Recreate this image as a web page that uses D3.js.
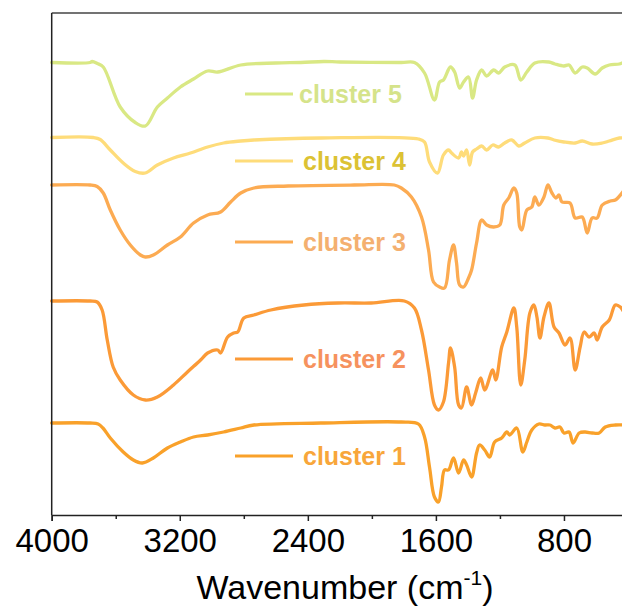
<!DOCTYPE html>
<html>
<head>
<meta charset="utf-8">
<script src="https://cdn.jsdelivr.net/npm/d3@7"></script>
<style>
  html, body { margin: 0; padding: 0; background: #fff; }
  svg { display: block; font-family: "Liberation Sans", Arial, sans-serif; }
</style>
</head>
<body>
<svg id="chart" width="622" height="610"></svg>
<script>
// FTIR spectra of five clusters, stacked with vertical offsets (arbitrary units).
const seriesNames = ["cluster 1", "cluster 2", "cluster 3", "cluster 4", "cluster 5"];
const lineColors  = ["#f9a12a", "#fb9a37", "#fcab52", "#fedc7a", "#d9e884"];
const labelColors = ["#f8a63a", "#f6925e", "#f4b070", "#dcc234", "#d5e38a"];

const xTicks = [4000, 3200, 2400, 1600, 800];
const xMinorTicks = [3600, 2800, 2000, 1200, 400];

// [wavenumber (cm-1), offset intensity]
const cluster1 = [
  [4000,18.4],[3760,18.4],[3710,18.2],[3680,17.4],[3634,15.4],[3553,12.6],[3490,11],[3434,10.4],[3365,11.4],
  [3277,13.4],[3196,14.6],[3114,15.6],[3026,16],[2926,16.6],[2819,17.4],[2737,18],
  [2318,18.4],[1816,18.6],[1709,18.2],[1671,15.6],[1640,9.6],[1609,3.6],[1584,2.6],
  [1565,5.6],[1546,9],[1521,9],[1490,11.4],[1458,8.4],[1427,11],[1408,10],[1377,7.6],
  [1346,12.4],[1327,14],[1295,13],[1264,11.6],[1233,14.6],[1189,15.4],[1157,16.6],
  [1139,16],[1095,17.4],[1057,12.6],[1032,14.6],[1001,17],[957,18.2],[919,18],[888,18],
  [856,17.4],[825,17.6],[800,16.4],[768,16.6],[743,14.4],[705,16.4],[668,16.6],
  [624,16.4],[580,16.4],[542,17.6],[479,18],[423,18]
];
const cluster2 = [
  [4000,42.8],[3760,42.8],[3716,42.6],[3685,41],[3653,35],[3616,29.6],[3572,27],[3490,24],[3415,23],
  [3340,23.6],[3239,26],[3152,28.6],[3070,31],[3026,32.4],[2963,33],[2945,32.4],
  [2901,35.6],[2863,36.4],[2838,36.6],[2800,39.4],[2737,40],[2631,41],[2424,42],
  [2211,42.4],[2004,42.4],[1797,42.8],[1734,41.4],[1690,37],[1646,29],[1609,22],
  [1584,21],[1553,22.6],[1521,30.4],[1509,33.4],[1483,29.6],[1458,22],[1440,21.4],
  [1408,25.6],[1377,22],[1352,24.4],[1320,27.4],[1295,25],[1245,29],[1226,27],
  [1189,33.6],[1157,36.6],[1113,41.4],[1095,37.6],[1070,26],[1045,31],[1013,40.4],
  [988,42],[969,39.6],[950,35.4],[925,39.6],[894,42.4],[862,37.6],[831,36.4],[793,34],
  [762,35.4],[730,29],[699,33.6],[674,36.6],[643,35.6],[611,36.4],[593,35],[561,37.6],
  [517,39],[479,42],[448,41.6],[423,40.4]
];
const cluster3 = [
  [4000,66],[3760,66],[3716,65.7],[3678,64.4],[3634,61],[3572,57],[3509,54],[3446,52],[3415,51.6],
  [3365,52],[3277,54],[3196,55.6],[3114,58.4],[3026,60],[2945,60.6],[2882,62.6],
  [2819,64.4],[2737,65.4],[2524,65.8],[2111,66],[1860,66],[1816,65.4],[1753,63.6],
  [1690,59.6],[1646,53],[1615,46.6],[1577,45.6],[1546,45.4],[1515,51],[1490,54],
  [1471,50.4],[1452,46],[1427,45.6],[1396,47.4],[1377,49],[1346,54.4],[1314,59],
  [1283,58],[1239,57.6],[1201,58],[1176,62],[1145,63.4],[1113,65.4],[1095,64.4],
  [1076,57.6],[1063,57],[1032,61],[1001,61.6],[982,63.6],[957,62],[925,63.6],[900,66],
  [875,64.4],[850,63.4],[831,64],[812,62.6],[762,62.4],[730,59.4],[686,59.6],[655,56.4],
  [624,59.4],[593,59.4],[561,62],[511,62.8],[479,63],[423,65]
];
const cluster4 = [
  [4000,75.5],[3740,75.5],[3697,75.1],[3634,73],[3553,70.4],[3478,68.7],[3415,68.4],[3340,70],
  [3239,71.4],[3133,72.4],[3026,73.6],[2926,74.4],[2819,74.8],[2737,75],[2318,75.4],
  [1709,75.2],[1671,74.6],[1640,70.6],[1590,68.4],[1553,72],[1521,73],[1502,72.4],
  [1458,71.4],[1440,72.6],[1427,71.8],[1408,73],[1389,70],[1371,72.6],[1346,73.2],
  [1314,73.8],[1283,73],[1245,74],[1208,73.6],[1170,74.4],[1126,75],[1082,73.8],
  [1045,74.4],[982,75.4],[900,75.4],[862,75],[800,74.6],[730,74.4],[686,74.8],
  [624,74.2],[561,74.4],[517,74.8],[454,75.4],[423,75.4]
];
const cluster5 = [
  [4000,90.5],[3760,90.5],[3747,90.7],[3715,90.3],[3678,89.6],[3572,81.6],[3478,78.5],[3415,77.8],
  [3340,81.6],[3277,83.4],[3196,85.6],[3114,87.2],[3026,88.8],[2963,88.6],[2819,90],
  [2600,90.4],[2443,90.5],[2300,90.7],[2200,90.6],[1816,90.5],[1734,90.5],[1671,88.4],
  [1609,83],[1577,86.6],[1553,87],[1509,89.6],[1483,88.6],[1452,85.4],[1427,86.6],
  [1396,87.6],[1371,83.4],[1346,87],[1314,89],[1283,87.8],[1239,89],[1208,88.4],
  [1170,89.6],[1107,90],[1070,87],[1032,88.6],[982,90.4],[894,90.6],[856,90.2],[800,89.8],
  [768,90],[730,88.4],[686,89.6],[655,89.4],[605,88.2],[561,89.4],[517,90],[454,90.2],
  [423,90.6]
];
const spectra = [cluster1, cluster2, cluster3, cluster4, cluster5];

const svg = d3.select("#chart");
const plotLeft = 51.7, plotBottom = 515, plotTop = 13;

const x = d3.scaleLinear().domain([4000, 400]).range([plotLeft, 628]);
const y = d3.scaleLinear().domain([0, 100]).range([plotBottom, 15]);

// spectra
const line = d3.line()
  .x(d => x(d[0]))
  .y(d => y(d[1]))
  .curve(d3.curveCatmullRom.alpha(0.5));

spectra.forEach((s, i) => {
  svg.append("path")
    .datum(s)
    .attr("fill", "none")
    .attr("stroke", lineColors[i])
    .attr("stroke-width", 3.3)
    .attr("stroke-linejoin", "round")
    .attr("stroke-linecap", "round")
    .attr("d", line);
});

// frame
svg.append("line").attr("x1", plotLeft).attr("x2", 622).attr("y1", plotTop).attr("y2", plotTop)
  .attr("stroke", "#444").attr("stroke-width", 1.5);
svg.append("line").attr("x1", plotLeft).attr("x2", plotLeft).attr("y1", plotTop).attr("y2", plotBottom)
  .attr("stroke", "#222").attr("stroke-width", 1.5);

// x axis
const xAxis = svg.append("g").attr("transform", `translate(0,${plotBottom})`)
  .call(d3.axisBottom(x).tickValues(xTicks).tickFormat(d3.format("d")).tickSize(6).tickPadding(8));
xAxis.select(".domain").attr("stroke", "#222").attr("stroke-width", 1.5);
xAxis.selectAll(".tick line").attr("stroke", "#222").attr("stroke-width", 1.5);
xAxis.selectAll(".tick text")
  .attr("fill", "#000")
  .style("font-size", "33px")
  .style("font-family", "'Liberation Sans', Arial, sans-serif");

const minor = svg.append("g").attr("transform", `translate(0,${plotBottom})`)
  .call(d3.axisBottom(x).tickValues(xMinorTicks).tickFormat("").tickSize(4));
minor.select(".domain").remove();
minor.selectAll(".tick line").attr("stroke", "#222").attr("stroke-width", 1.5);

// axis title
const title = svg.append("text")
  .attr("x", 345).attr("y", 599)
  .attr("text-anchor", "middle")
  .attr("fill", "#000")
  .style("font-size", "34px");
title.append("tspan").text("Wavenumber (cm");
title.append("tspan").attr("dy", -14).style("font-size", "21px").text("-1");
title.append("tspan").attr("dy", 14).text(")");

// legend labels beside each spectrum
const legendRows = [456, 359, 242, 161, 94];
const legendLineStart = [235, 235, 235, 235, 245];
seriesNames.forEach((name, i) => {
  const ly = legendRows[i];
  svg.append("line")
    .attr("x1", legendLineStart[i]).attr("x2", 293)
    .attr("y1", ly).attr("y2", ly)
    .attr("stroke", lineColors[i]).attr("stroke-width", 3);
  svg.append("text")
    .attr("x", i === 4 ? 299 : 303).attr("y", ly + 9)
    .attr("fill", labelColors[i])
    .style("font-size", "25px")
    .style("font-weight", "bold")
    .text(name);
});
</script>
</body>
</html>
